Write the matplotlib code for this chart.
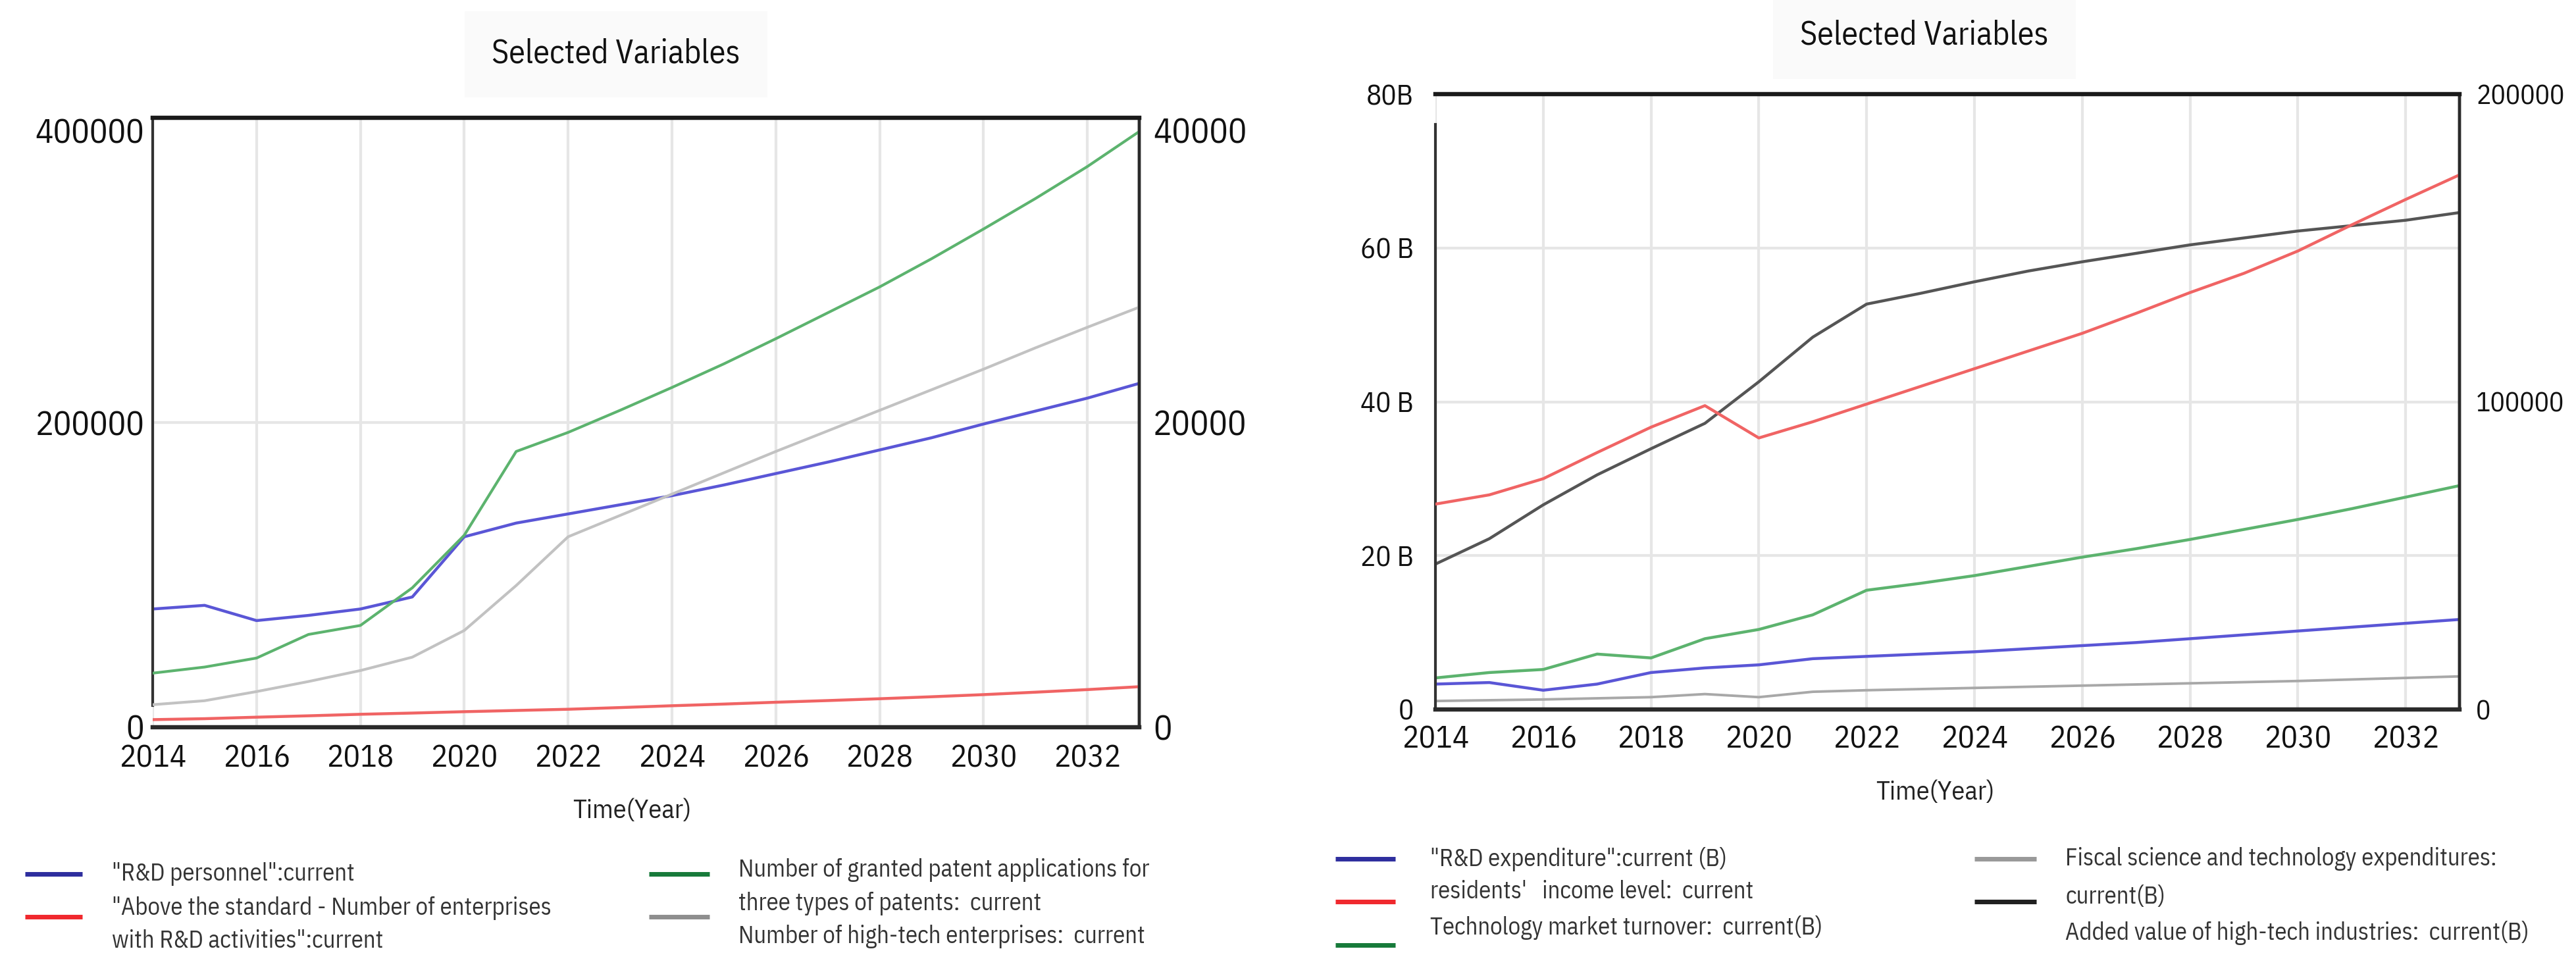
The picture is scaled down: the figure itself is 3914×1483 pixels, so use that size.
import numpy as np
import matplotlib
matplotlib.use('Agg')
import matplotlib.pyplot as plt
from matplotlib import font_manager
from matplotlib.lines import Line2D

names = {f.name for f in font_manager.fontManager.ttflist}
base = 'IBM Plex Sans Condensed' if 'IBM Plex Sans Condensed' in names else 'Liberation Sans'
plt.rcParams['font.family'] = [base, 'DejaVu Sans']

years = list(range(2014, 2034))

# left chart: R&D personnel on the left axis, the rest on the right axis
rd_personnel = [77600, 80000, 70000, 73400, 77600, 85500, 125000, 134000, 140000, 146000,
                152000, 159000, 166500, 174000, 182000, 190000, 199000, 207500, 216000, 225700]
enterprises_rd = [500, 560, 660, 750, 850, 930, 1020, 1100, 1180, 1290,
                  1410, 1520, 1640, 1750, 1870, 2000, 2140, 2300, 2470, 2660]
granted_patents = [3550, 3950, 4540, 6090, 6680, 9150, 12600, 18100, 19350, 20800,
                   22300, 23850, 25500, 27200, 28900, 30750, 32700, 34700, 36800, 39100]
hightech_ent = [1480, 1740, 2340, 3000, 3720, 4600, 6350, 9300, 12500, 13900,
                15300, 16700, 18100, 19450, 20800, 22150, 23500, 24900, 26250, 27570]

# right chart: values in B on the left axis, income level on the right axis
rd_expenditure = [3.3, 3.5, 2.5, 3.3, 4.8, 5.4, 5.8, 6.6, 6.9, 7.2,
                  7.5, 7.9, 8.3, 8.7, 9.2, 9.7, 10.2, 10.7, 11.2, 11.7]
income_level = [66750, 69750, 75000, 83500, 91750, 98750, 88250, 93500, 99250, 105000,
                110750, 116500, 122250, 128750, 135500, 141750, 149000, 157500, 165750, 173750]
tech_turnover = [4.1, 4.8, 5.2, 7.2, 6.7, 9.2, 10.4, 12.3, 15.5, 16.4,
                 17.4, 18.6, 19.8, 20.9, 22.1, 23.4, 24.7, 26.1, 27.6, 29.1]
fiscal_st = [1.1, 1.2, 1.3, 1.45, 1.6, 2.0, 1.6, 2.3, 2.5, 2.65,
             2.8, 2.95, 3.1, 3.25, 3.4, 3.55, 3.7, 3.9, 4.1, 4.3]
hightech_value = [18.9, 22.2, 26.6, 30.5, 33.9, 37.2, 42.6, 48.4, 52.7, 54.1,
                  55.6, 57.0, 58.2, 59.3, 60.4, 61.3, 62.2, 62.9, 63.6, 64.6]

xticks = list(range(2014, 2033, 2))
left_yticks = [0, 200000, 400000]
left_y2ticks = [0, 20000, 40000]
right_yticks = [0, 20, 40, 60, 80]
right_ylabels = ['0', '20 B', '40 B', '60 B', '80B']
right_y2ticks = [0, 100000, 200000]

BLUE, RED, GREEN = '#5a56d6', '#f06464', '#5cb36e'
GRAY_L, GRAY_R, BLACK = '#c2c2c2', '#a8a8a8', '#555555'
GRID = '#e6e6e6'

W, H = 3914, 1483
def fx(x):
    return x / W
def fy(y):
    return 1 - y / H

fig = plt.figure(figsize=(W / 100, H / 100), dpi=100)


def style(ax, ax2, top_lw, left_bounds, lpad, rpad, xpad, lsize, rsize, xsize):
    ax.set_xlim(2014, 2033)
    ax.set_xticks(xticks)
    ax.grid(True, color=GRID, lw=3)
    ax.set_axisbelow(True)
    ax.tick_params(length=0)
    ax.tick_params(axis='x', pad=xpad, labelsize=xsize, colors='#111111')
    ax.tick_params(axis='y', pad=lpad, labelsize=lsize, colors='#111111')
    ax2.tick_params(length=0, pad=rpad, labelsize=rsize, colors='#111111')
    for a in (ax, ax2):
        a.spines['top'].set_linewidth(top_lw)
        a.spines['bottom'].set_linewidth(top_lw)
        a.spines['top'].set_color('#1a1a1a')
        a.spines['bottom'].set_color('#2a2a2a')
        a.spines['right'].set_linewidth(3.2)
        a.spines['right'].set_color('#2a2a2a')
        a.spines['left'].set_linewidth(3)
        a.spines['left'].set_color('#333333')
    ax.spines['left'].set_bounds(*left_bounds)
    ax2.spines['left'].set_visible(False)


# ---- left chart
ax = fig.add_axes([fx(232), fy(1105), fx(1731) - fx(232), (1105 - 179) / H])
ax2 = ax.twinx()
ax.plot(years, rd_personnel, color=BLUE, lw=3.2)
ax2.plot(years, granted_patents, color=GREEN, lw=3)
ax2.plot(years, hightech_ent, color=GRAY_L, lw=3)
ax2.plot(years, enterprises_rd, color=RED, lw=3.2)
ax.set_ylim(0, 400000)
ax2.set_ylim(0, 40000)
ax.set_yticks(left_yticks)
ax2.set_yticks(left_y2ticks)
ax.set_yticklabels([str(v) for v in left_yticks])
ax2.set_yticklabels([str(v) for v in left_y2ticks])
ax.yaxis.grid(True, color='#dedede', lw=4)
style(ax, ax2, 4.5, (14250, 400000), 9, 15, 18, 37, 38, 34)
ax.get_yticklabels()[-1].set_va('top')
ax2.get_yticklabels()[-1].set_va('top')

# ---- right chart
bx = fig.add_axes([fx(2181), fy(1078), fx(3737) - fx(2181), (1078 - 143) / H])
bx2 = bx.twinx()
bx.plot(years, hightech_value, color=BLACK, lw=3.2)
bx.plot(years, tech_turnover, color=GREEN, lw=3.2)
bx.plot(years, rd_expenditure, color=BLUE, lw=3.2)
bx.plot(years, fiscal_st, color=GRAY_R, lw=2.8)
bx2.plot(years, income_level, color=RED, lw=3.2)
bx.set_ylim(0, 80)
bx2.set_ylim(0, 200000)
bx.set_yticks(right_yticks)
bx.set_yticklabels(right_ylabels)
bx2.set_yticks(right_y2ticks)
bx2.set_yticklabels([str(v) for v in right_y2ticks])
bx.yaxis.grid(True, color='#dedede', lw=4)
style(bx, bx2, 4.5, (0, 76.1), 24, 18, 17, 31, 30, 34)

# ---- titles and axis labels
for cx, cy in [(936, 82), (2924, 54)]:
    fig.text(fx(cx), fy(cy), 'Selected Variables', ha='center', va='center', fontsize=36,
             color='#111111',
             bbox=dict(facecolor='#fafafa', edgecolor='none', pad=30))
fig.text(fx(960), fy(1232), 'Time(Year)', ha='center', va='center', fontsize=29, color='#222222')
fig.text(fx(2940), fy(1205), 'Time(Year)', ha='center', va='center', fontsize=29, color='#222222')

# ---- legends: (swatch x0, x1, swatch y, colour, text x, [(line y, text)])
legend_items = [
    (38, 125, 1328, '#2e2e9e', 170, [(1328, '"R&D personnel":current')]),
    (38, 125, 1393, '#f0282d', 170, [(1380, '"Above the standard - Number of enterprises'),
                                     (1430, 'with R&D activities":current')]),
    (986, 1078, 1328, '#177a3a', 1122, [(1322, 'Number of granted patent applications for'),
                                        (1373, 'three types of patents:  current')]),
    (986, 1078, 1393, '#8e8e8e', 1122, [(1423, 'Number of high-tech enterprises:  current')]),
    (2029, 2120, 1305, '#2e2e9e', 2173, [(1305, '"R&D expenditure":current (B)')]),
    (2029, 2120, 1370, '#f0282d', 2173, [(1355, "residents'   income level:  current")]),
    (2029, 2120, 1436, '#177a3a', 2173, [(1410, 'Technology market turnover:  current(B)')]),
    (3000, 3094, 1305, '#999999', 3138, [(1305, 'Fiscal science and technology expenditures:'),
                                         (1363, 'current(B)')]),
    (3000, 3094, 1370, '#202020', 3138, [(1418, 'Added value of high-tech industries:  current(B)')]),
]
for x0, x1, ly, col, tx, lines in legend_items:
    fig.add_artist(Line2D([fx(x0), fx(x1)], [fy(ly), fy(ly)], transform=fig.transFigure,
                          color=col, lw=5, solid_capstyle='butt'))
    for y, s in lines:
        fig.text(fx(tx), fy(y), s, ha='left', va='center', fontsize=26.5, color='#333333')

fig.savefig('out.png', dpi=100, facecolor='white')
